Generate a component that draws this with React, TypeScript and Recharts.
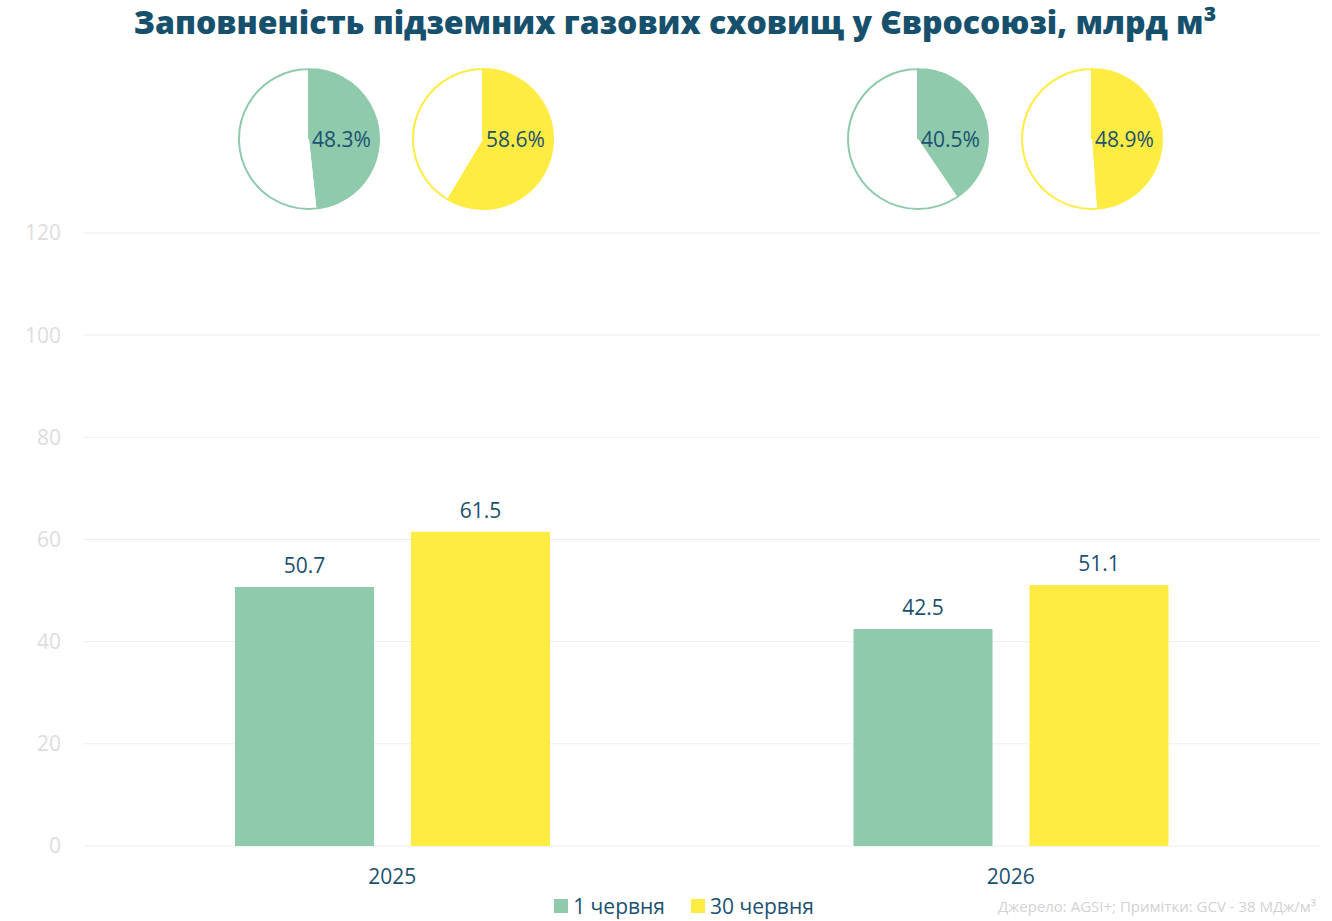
import React from "react";
import { BarChart, Bar, XAxis, YAxis, CartesianGrid, LabelList, Legend, PieChart, Pie, Cell } from "recharts";

// Storage volumes, bcm
const years = ["2025", "2026"];
const june1Volume = [50.7, 42.5];
const june30Volume = [61.5, 51.1];

// Storage fill level, % of capacity
const june1Share = [48.3, 40.5];
const june30Share = [58.6, 48.9];

const seriesNames = ["1 червня", "30 червня"];
const yTicks = [0, 20, 40, 60, 80, 100, 120];

const title = "Заповненість підземних газових сховищ у Євросоюзі, млрд м³";
const sourceNote = "Джерело: AGSI+; Примітки: GCV - 38 МДж/м³";

const GREEN = "#8ecaab";
const YELLOW = "#ffec42";
const INK = "#1b5170";
const FONT = "'Open Sans', Lato, sans-serif";
const LABEL_SIZE = 21;

const barData = years.map((y, i) => ({ year: y, june1: june1Volume[i], june30: june30Volume[i] }));

// Pie centres (layout)
const pieCentersX = [309, 483, 918, 1092];
const PIE_CY = 139;
const PIE_R = 70;

const pies = [
  { share: june1Share[0], color: GREEN },
  { share: june30Share[0], color: YELLOW },
  { share: june1Share[1], color: GREEN },
  { share: june30Share[1], color: YELLOW },
];

const renderPieLabel = (props: any) => {
  if (props.index !== 0) return null;
  return (
    <text
      x={props.cx + 3}
      y={props.cy}
      fill={INK}
      fontSize={LABEL_SIZE}
      fontFamily={FONT}
      textAnchor="start"
      dominantBaseline="central"
    >
      {`${props.payload.value.toFixed(1)}%`}
    </text>
  );
};

const LegendContent = () => (
  <div
    style={{
      display: "flex",
      justifyContent: "center",
      alignItems: "center",
      height: 30,
      fontFamily: FONT,
      fontSize: LABEL_SIZE,
      color: INK,
      paddingLeft: 48,
    }}
  >
    {seriesNames.map((n, i) => (
      <div key={n} style={{ display: "flex", alignItems: "center", marginRight: i === 0 ? 26 : 0 }}>
        <span style={{ width: 14, height: 14, background: i === 0 ? GREEN : YELLOW, marginRight: 5, display: "inline-block" }} />
        <span>{n}</span>
      </div>
    ))}
  </div>
);

export default function App() {
  return (
    <div style={{ position: "absolute", left: 0, top: 0, width: 1332, height: 921, background: "#fff", fontFamily: FONT }}>
      <div
        style={{
          position: "absolute",
          top: 0,
          left: 0,
          width: 1350,
          textAlign: "center",
          fontSize: 32,
          fontWeight: 800,
          lineHeight: "44px",
          color: "#16506c",
          fontFamily: FONT,
        }}
      >
        {title}
      </div>

      <div style={{ position: "absolute", left: 0, top: 0 }}>
        <BarChart
          width={1332}
          height={921}
          data={barData}
          margin={{ top: 233, right: 12, bottom: 0, left: 0 }}
          barCategoryGap={152}
          barGap={37}
        >
          <CartesianGrid vertical={false} stroke="#eeeeee" />
          <XAxis
            dataKey="year"
            height={45}
            axisLine={false}
            tickLine={false}
            tickMargin={17}
            tick={{ fill: INK, fontSize: LABEL_SIZE, fontFamily: FONT }}
          />
          <YAxis
            width={83}
            domain={[0, 120]}
            ticks={yTicks}
            axisLine={false}
            tickLine={false}
            tickMargin={16}
            tick={{ fill: "#dddddd", fontSize: LABEL_SIZE, fontFamily: FONT }}
          />
          <Legend verticalAlign="bottom" height={30} content={<LegendContent />} />
          <Bar dataKey="june1" name={seriesNames[0]} fill={GREEN} isAnimationActive={false}>
            <LabelList dataKey="june1" position="top" offset={14} fill={INK} fontSize={LABEL_SIZE} fontFamily={FONT} />
          </Bar>
          <Bar dataKey="june30" name={seriesNames[1]} fill={YELLOW} isAnimationActive={false}>
            <LabelList dataKey="june30" position="top" offset={14} fill={INK} fontSize={LABEL_SIZE} fontFamily={FONT} />
          </Bar>
        </BarChart>
      </div>

      <div style={{ position: "absolute", left: 0, top: 0 }}>
        <PieChart width={1332} height={220} margin={{ top: 0, right: 0, bottom: 0, left: 0 }}>
          {pies.map((p, i) => (
            <Pie
              key={`fill-${i}`}
              data={[{ value: p.share }, { value: 100 - p.share }]}
              dataKey="value"
              cx={pieCentersX[i]}
              cy={PIE_CY}
              outerRadius={PIE_R}
              innerRadius={0}
              startAngle={90}
              endAngle={-270}
              stroke="none"
              label={renderPieLabel}
              labelLine={false}
              isAnimationActive={false}
            >
              <Cell fill={p.color} />
              <Cell fill="#ffffff" />
            </Pie>
          ))}
          {pies.map((p, i) => (
            <Pie
              key={`ring-${i}`}
              data={[{ value: 1 }]}
              dataKey="value"
              cx={pieCentersX[i]}
              cy={PIE_CY}
              outerRadius={PIE_R}
              innerRadius={0}
              startAngle={90}
              endAngle={-270}
              fill="none"
              stroke={p.color}
              strokeWidth={2}
              isAnimationActive={false}
            />
          ))}
        </PieChart>
      </div>

      <div
        style={{
          position: "absolute",
          right: 16,
          top: 896,
          fontSize: 15,
          color: "#d2d2d2",
          fontFamily: FONT,
          lineHeight: "20px",
        }}
      >
        {sourceNote}
      </div>
    </div>
  );
}
